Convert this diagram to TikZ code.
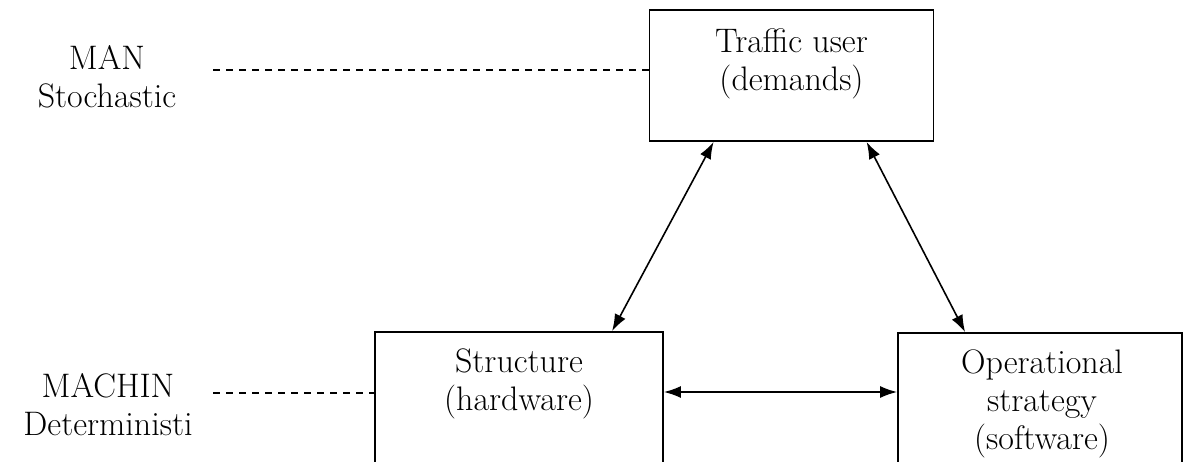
\documentclass[tikz,border=0pt]{standalone}
\usepackage{fontspec}
\usetikzlibrary{arrows.meta}
\begin{document}
\begin{tikzpicture}[x=1pt,y=-1pt,
  box/.style={draw, line width=1.8pt, inner sep=0pt, minimum width=284pt, minimum height=131pt},
  txt/.style={inner sep=0pt, anchor=north, align=center, font=\fontsize{34}{38}\selectfont},
  link/.style={line width=1.6pt, {Latex[length=17pt,width=12pt]}-{Latex[length=17pt,width=12pt]}},
  dline/.style={line width=1.4pt, dash pattern=on 7pt off 6pt}]
\useasboundingbox (0,0) rectangle (1184,461);
\clip (0,0) rectangle (1184,461);
% boxes
\node[box] (top) at (791.5,75.5) {};
\node[box, minimum width=288pt] (bl) at (519,397.5) {};
\node[box] (br) at (1040,398.5) {};
% texts
\node[txt] (ttop) at (791.5,28.4) {Traffic user\\(demands)};
\node[txt] (tbl) at (519,349) {Structure\\(hardware)};
\node[txt] (tbr) at (1042,350) {Operational\\strategy\\(software)};
\node[txt] (man) at (107,44.8) {MAN\\Stochastic};
\node[txt] (mach) at (108,372.8) {MACHIN\\Deterministi};
% dashed leaders
\coordinate (d1) at (213,70);
\coordinate (d2) at (213,393);
\draw[dline] (d1) -- ([yshift=5.5pt]top.west);
\draw[dline] (d2) -- ([yshift=4.5pt]bl.west);
% arrows
\draw[link] ([xshift=65pt]top.south west) -- ([xshift=238pt]bl.north west);
\draw[link] ([xshift=218pt]top.south west) -- ([xshift=68pt]br.north west);
\draw[link] ([yshift=5.5pt]bl.east) -- ([yshift=6.5pt]br.west);
\end{tikzpicture}
\end{document}
